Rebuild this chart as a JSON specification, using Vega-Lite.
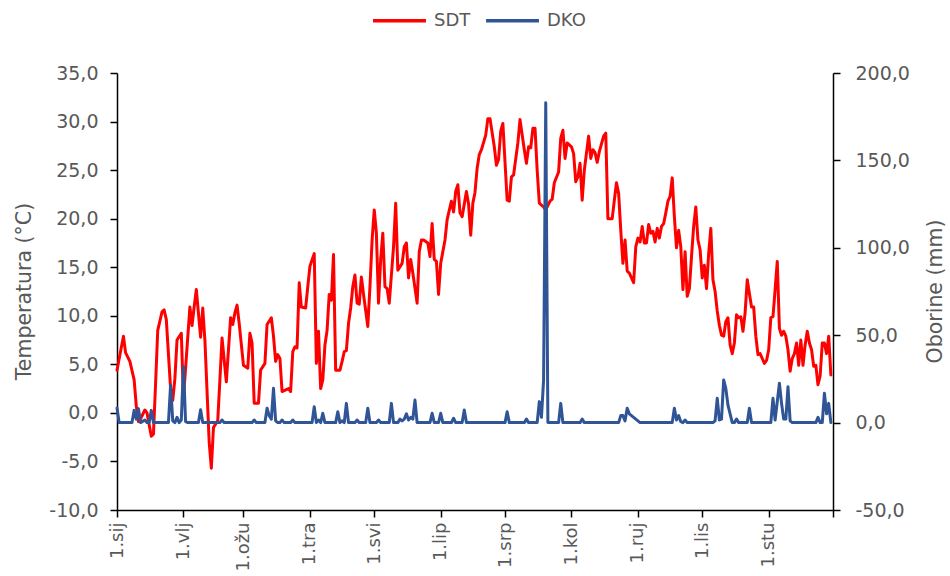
{
  "$schema": "https://vega.github.io/schema/vega-lite/v6.json",
  "width": 716,
  "height": 437,
  "autosize": {"type": "none"},
  "padding": {"left": 117, "top": 73, "right": 117, "bottom": 66},
  "background": "white",
  "config": {
    "view": {"stroke": null},
    "font": "DejaVu Sans",
    "axis": {
      "grid": false,
      "domainColor": "#000000",
      "domainWidth": 1.5,
      "tickColor": "#000000",
      "tickWidth": 1.5,
      "tickSize": 7,
      "labelColor": "#595959",
      "labelFont": "DejaVu Sans",
      "labelFontSize": 19,
      "titleColor": "#595959",
      "titleFont": "DejaVu Sans",
      "titleFontSize": 20.5,
      "titleFontWeight": "normal"
    }
  },
  "datasets": {
    "sdt": [
      {"dan": "2019-01-01", "SDT": 4.4}, {"dan": "2019-01-04", "SDT": 7.9}, {"dan": "2019-01-05", "SDT": 6.2}, {"dan": "2019-01-07", "SDT": 5.3},
      {"dan": "2019-01-09", "SDT": 3.4}, {"dan": "2019-01-10", "SDT": 0.7}, {"dan": "2019-01-11", "SDT": -0.9}, {"dan": "2019-01-12", "SDT": -0.6},
      {"dan": "2019-01-14", "SDT": 0.3}, {"dan": "2019-01-15", "SDT": 0.0}, {"dan": "2019-01-17", "SDT": -2.4}, {"dan": "2019-01-18", "SDT": -2.2},
      {"dan": "2019-01-19", "SDT": 3.0}, {"dan": "2019-01-20", "SDT": 8.5}, {"dan": "2019-01-22", "SDT": 10.4}, {"dan": "2019-01-23", "SDT": 10.6},
      {"dan": "2019-01-24", "SDT": 9.6}, {"dan": "2019-01-26", "SDT": 2.5}, {"dan": "2019-01-27", "SDT": 1.3}, {"dan": "2019-01-28", "SDT": 3.5},
      {"dan": "2019-01-29", "SDT": 7.5}, {"dan": "2019-01-31", "SDT": 8.2}, {"dan": "2019-02-01", "SDT": 1.5}, {"dan": "2019-02-04", "SDT": 10.9},
      {"dan": "2019-02-05", "SDT": 9.0}, {"dan": "2019-02-06", "SDT": 10.9}, {"dan": "2019-02-07", "SDT": 12.7}, {"dan": "2019-02-09", "SDT": 7.8},
      {"dan": "2019-02-10", "SDT": 10.8}, {"dan": "2019-02-11", "SDT": 7.5}, {"dan": "2019-02-13", "SDT": -3.0}, {"dan": "2019-02-14", "SDT": -5.7},
      {"dan": "2019-02-15", "SDT": -1.5}, {"dan": "2019-02-17", "SDT": -0.8}, {"dan": "2019-02-18", "SDT": 3.4}, {"dan": "2019-02-19", "SDT": 7.7},
      {"dan": "2019-02-21", "SDT": 3.2}, {"dan": "2019-02-23", "SDT": 9.8}, {"dan": "2019-02-24", "SDT": 9.1}, {"dan": "2019-02-25", "SDT": 10.3},
      {"dan": "2019-02-26", "SDT": 11.1}, {"dan": "2019-02-27", "SDT": 9.2}, {"dan": "2019-03-01", "SDT": 4.9}, {"dan": "2019-03-03", "SDT": 4.6},
      {"dan": "2019-03-04", "SDT": 8.2}, {"dan": "2019-03-05", "SDT": 7.2}, {"dan": "2019-03-06", "SDT": 1.0}, {"dan": "2019-03-08", "SDT": 1.0},
      {"dan": "2019-03-09", "SDT": 4.4}, {"dan": "2019-03-11", "SDT": 5.1}, {"dan": "2019-03-12", "SDT": 9.1}, {"dan": "2019-03-14", "SDT": 9.8},
      {"dan": "2019-03-15", "SDT": 7.9}, {"dan": "2019-03-16", "SDT": 5.3}, {"dan": "2019-03-17", "SDT": 6.0}, {"dan": "2019-03-18", "SDT": 5.6},
      {"dan": "2019-03-19", "SDT": 2.2}, {"dan": "2019-03-22", "SDT": 2.5}, {"dan": "2019-03-23", "SDT": 2.2}, {"dan": "2019-03-24", "SDT": 6.3},
      {"dan": "2019-03-25", "SDT": 6.8}, {"dan": "2019-03-26", "SDT": 6.7}, {"dan": "2019-03-27", "SDT": 13.4}, {"dan": "2019-03-28", "SDT": 10.9},
      {"dan": "2019-03-30", "SDT": 10.8}, {"dan": "2019-03-31", "SDT": 13.0}, {"dan": "2019-04-01", "SDT": 15.1}, {"dan": "2019-04-03", "SDT": 16.4},
      {"dan": "2019-04-04", "SDT": 5.1}, {"dan": "2019-04-05", "SDT": 8.4}, {"dan": "2019-04-06", "SDT": 2.5}, {"dan": "2019-04-07", "SDT": 3.4},
      {"dan": "2019-04-08", "SDT": 7.0}, {"dan": "2019-04-09", "SDT": 8.5}, {"dan": "2019-04-10", "SDT": 12.2}, {"dan": "2019-04-11", "SDT": 11.6},
      {"dan": "2019-04-12", "SDT": 16.3}, {"dan": "2019-04-13", "SDT": 4.4}, {"dan": "2019-04-15", "SDT": 4.4}, {"dan": "2019-04-16", "SDT": 5.3},
      {"dan": "2019-04-17", "SDT": 6.3}, {"dan": "2019-04-18", "SDT": 6.4}, {"dan": "2019-04-19", "SDT": 9.2}, {"dan": "2019-04-20", "SDT": 10.8},
      {"dan": "2019-04-21", "SDT": 13.0}, {"dan": "2019-04-22", "SDT": 14.2}, {"dan": "2019-04-23", "SDT": 11.3}, {"dan": "2019-04-24", "SDT": 11.2},
      {"dan": "2019-04-25", "SDT": 14.0}, {"dan": "2019-04-26", "SDT": 12.2}, {"dan": "2019-04-28", "SDT": 8.9}, {"dan": "2019-04-29", "SDT": 13.0},
      {"dan": "2019-04-30", "SDT": 17.8}, {"dan": "2019-05-01", "SDT": 20.9}, {"dan": "2019-05-02", "SDT": 18.5}, {"dan": "2019-05-03", "SDT": 11.3},
      {"dan": "2019-05-04", "SDT": 15.8}, {"dan": "2019-05-05", "SDT": 18.5}, {"dan": "2019-05-06", "SDT": 13.0}, {"dan": "2019-05-07", "SDT": 12.8},
      {"dan": "2019-05-08", "SDT": 11.3}, {"dan": "2019-05-10", "SDT": 17.1}, {"dan": "2019-05-11", "SDT": 21.6}, {"dan": "2019-05-12", "SDT": 14.7},
      {"dan": "2019-05-14", "SDT": 15.4}, {"dan": "2019-05-15", "SDT": 17.1}, {"dan": "2019-05-16", "SDT": 17.5}, {"dan": "2019-05-17", "SDT": 13.9},
      {"dan": "2019-05-18", "SDT": 15.8}, {"dan": "2019-05-19", "SDT": 14.4}, {"dan": "2019-05-21", "SDT": 11.3}, {"dan": "2019-05-22", "SDT": 16.6},
      {"dan": "2019-05-23", "SDT": 17.8}, {"dan": "2019-05-24", "SDT": 17.8}, {"dan": "2019-05-26", "SDT": 17.5}, {"dan": "2019-05-27", "SDT": 16.1},
      {"dan": "2019-05-28", "SDT": 19.5}, {"dan": "2019-05-29", "SDT": 15.8}, {"dan": "2019-05-30", "SDT": 15.6}, {"dan": "2019-05-31", "SDT": 12.2},
      {"dan": "2019-06-01", "SDT": 15.4}, {"dan": "2019-06-03", "SDT": 17.8}, {"dan": "2019-06-04", "SDT": 19.9}, {"dan": "2019-06-06", "SDT": 21.8},
      {"dan": "2019-06-07", "SDT": 20.7}, {"dan": "2019-06-08", "SDT": 22.8}, {"dan": "2019-06-09", "SDT": 23.5}, {"dan": "2019-06-10", "SDT": 20.6},
      {"dan": "2019-06-11", "SDT": 20.2}, {"dan": "2019-06-13", "SDT": 22.8}, {"dan": "2019-06-14", "SDT": 21.5}, {"dan": "2019-06-15", "SDT": 18.3},
      {"dan": "2019-06-16", "SDT": 21.6}, {"dan": "2019-06-17", "SDT": 22.7}, {"dan": "2019-06-18", "SDT": 25.2}, {"dan": "2019-06-19", "SDT": 26.6},
      {"dan": "2019-06-20", "SDT": 27.1}, {"dan": "2019-06-22", "SDT": 28.6}, {"dan": "2019-06-23", "SDT": 30.3}, {"dan": "2019-06-24", "SDT": 30.3},
      {"dan": "2019-06-26", "SDT": 27.4}, {"dan": "2019-06-27", "SDT": 25.5}, {"dan": "2019-06-28", "SDT": 26.1}, {"dan": "2019-06-29", "SDT": 29.0},
      {"dan": "2019-06-30", "SDT": 29.8}, {"dan": "2019-07-02", "SDT": 21.9}, {"dan": "2019-07-03", "SDT": 21.8}, {"dan": "2019-07-04", "SDT": 24.3},
      {"dan": "2019-07-05", "SDT": 24.5}, {"dan": "2019-07-07", "SDT": 27.8}, {"dan": "2019-07-08", "SDT": 30.2}, {"dan": "2019-07-10", "SDT": 27.1},
      {"dan": "2019-07-11", "SDT": 25.7}, {"dan": "2019-07-12", "SDT": 27.4}, {"dan": "2019-07-13", "SDT": 27.3}, {"dan": "2019-07-14", "SDT": 29.3},
      {"dan": "2019-07-15", "SDT": 29.3}, {"dan": "2019-07-16", "SDT": 25.0}, {"dan": "2019-07-17", "SDT": 21.6}, {"dan": "2019-07-19", "SDT": 21.2},
      {"dan": "2019-07-20", "SDT": 20.9}, {"dan": "2019-07-22", "SDT": 21.8}, {"dan": "2019-07-23", "SDT": 22.0}, {"dan": "2019-07-24", "SDT": 23.7},
      {"dan": "2019-07-26", "SDT": 24.8}, {"dan": "2019-07-27", "SDT": 28.3}, {"dan": "2019-07-28", "SDT": 29.1}, {"dan": "2019-07-29", "SDT": 26.2},
      {"dan": "2019-07-30", "SDT": 27.8}, {"dan": "2019-08-01", "SDT": 27.4}, {"dan": "2019-08-02", "SDT": 26.7}, {"dan": "2019-08-03", "SDT": 23.8},
      {"dan": "2019-08-04", "SDT": 24.3}, {"dan": "2019-08-05", "SDT": 25.7}, {"dan": "2019-08-06", "SDT": 21.9}, {"dan": "2019-08-07", "SDT": 25.0},
      {"dan": "2019-08-09", "SDT": 28.5}, {"dan": "2019-08-10", "SDT": 26.2}, {"dan": "2019-08-11", "SDT": 27.1}, {"dan": "2019-08-12", "SDT": 26.8},
      {"dan": "2019-08-13", "SDT": 25.8}, {"dan": "2019-08-14", "SDT": 26.9}, {"dan": "2019-08-16", "SDT": 28.5}, {"dan": "2019-08-17", "SDT": 28.8},
      {"dan": "2019-08-18", "SDT": 20.0}, {"dan": "2019-08-20", "SDT": 20.0}, {"dan": "2019-08-21", "SDT": 21.9}, {"dan": "2019-08-22", "SDT": 23.7},
      {"dan": "2019-08-23", "SDT": 22.6}, {"dan": "2019-08-24", "SDT": 18.8}, {"dan": "2019-08-25", "SDT": 15.4}, {"dan": "2019-08-26", "SDT": 17.8},
      {"dan": "2019-08-27", "SDT": 14.6}, {"dan": "2019-08-28", "SDT": 14.4}, {"dan": "2019-08-30", "SDT": 13.4}, {"dan": "2019-08-31", "SDT": 17.1},
      {"dan": "2019-09-01", "SDT": 18.0}, {"dan": "2019-09-02", "SDT": 17.6}, {"dan": "2019-09-03", "SDT": 19.2}, {"dan": "2019-09-04", "SDT": 17.5},
      {"dan": "2019-09-05", "SDT": 17.5}, {"dan": "2019-09-06", "SDT": 19.4}, {"dan": "2019-09-07", "SDT": 18.5}, {"dan": "2019-09-08", "SDT": 18.7},
      {"dan": "2019-09-09", "SDT": 17.6}, {"dan": "2019-09-10", "SDT": 19.0}, {"dan": "2019-09-11", "SDT": 18.0}, {"dan": "2019-09-12", "SDT": 19.2},
      {"dan": "2019-09-13", "SDT": 19.5}, {"dan": "2019-09-14", "SDT": 20.6}, {"dan": "2019-09-15", "SDT": 21.8}, {"dan": "2019-09-16", "SDT": 22.3},
      {"dan": "2019-09-17", "SDT": 24.2}, {"dan": "2019-09-18", "SDT": 20.2}, {"dan": "2019-09-19", "SDT": 17.0}, {"dan": "2019-09-20", "SDT": 18.8},
      {"dan": "2019-09-21", "SDT": 17.1}, {"dan": "2019-09-22", "SDT": 12.7}, {"dan": "2019-09-23", "SDT": 16.6}, {"dan": "2019-09-24", "SDT": 12.0},
      {"dan": "2019-09-25", "SDT": 12.8}, {"dan": "2019-09-26", "SDT": 16.1}, {"dan": "2019-09-27", "SDT": 19.2}, {"dan": "2019-09-28", "SDT": 21.2},
      {"dan": "2019-09-29", "SDT": 17.8}, {"dan": "2019-09-30", "SDT": 16.8}, {"dan": "2019-10-01", "SDT": 13.9}, {"dan": "2019-10-02", "SDT": 15.2},
      {"dan": "2019-10-03", "SDT": 12.8}, {"dan": "2019-10-04", "SDT": 16.4}, {"dan": "2019-10-05", "SDT": 19.0}, {"dan": "2019-10-06", "SDT": 13.7},
      {"dan": "2019-10-07", "SDT": 12.5}, {"dan": "2019-10-08", "SDT": 10.5}, {"dan": "2019-10-09", "SDT": 9.0}, {"dan": "2019-10-10", "SDT": 8.0},
      {"dan": "2019-10-11", "SDT": 7.9}, {"dan": "2019-10-12", "SDT": 9.4}, {"dan": "2019-10-13", "SDT": 9.8}, {"dan": "2019-10-14", "SDT": 7.0},
      {"dan": "2019-10-15", "SDT": 6.1}, {"dan": "2019-10-16", "SDT": 7.2}, {"dan": "2019-10-17", "SDT": 10.1}, {"dan": "2019-10-18", "SDT": 9.8},
      {"dan": "2019-10-19", "SDT": 9.9}, {"dan": "2019-10-20", "SDT": 8.4}, {"dan": "2019-10-21", "SDT": 10.3}, {"dan": "2019-10-22", "SDT": 13.7},
      {"dan": "2019-10-23", "SDT": 12.3}, {"dan": "2019-10-24", "SDT": 10.9}, {"dan": "2019-10-25", "SDT": 10.9}, {"dan": "2019-10-26", "SDT": 7.9},
      {"dan": "2019-10-27", "SDT": 6.0}, {"dan": "2019-10-28", "SDT": 6.1}, {"dan": "2019-10-29", "SDT": 5.6}, {"dan": "2019-10-30", "SDT": 5.1},
      {"dan": "2019-10-31", "SDT": 5.4}, {"dan": "2019-11-01", "SDT": 6.5}, {"dan": "2019-11-02", "SDT": 9.8}, {"dan": "2019-11-03", "SDT": 9.9},
      {"dan": "2019-11-04", "SDT": 12.7}, {"dan": "2019-11-05", "SDT": 15.6}, {"dan": "2019-11-06", "SDT": 8.7}, {"dan": "2019-11-07", "SDT": 8.0},
      {"dan": "2019-11-08", "SDT": 8.4}, {"dan": "2019-11-09", "SDT": 7.9}, {"dan": "2019-11-10", "SDT": 6.5}, {"dan": "2019-11-11", "SDT": 4.3},
      {"dan": "2019-11-12", "SDT": 5.6}, {"dan": "2019-11-13", "SDT": 6.1}, {"dan": "2019-11-14", "SDT": 7.2}, {"dan": "2019-11-15", "SDT": 4.9},
      {"dan": "2019-11-16", "SDT": 7.5}, {"dan": "2019-11-17", "SDT": 4.9}, {"dan": "2019-11-18", "SDT": 7.0}, {"dan": "2019-11-19", "SDT": 8.4},
      {"dan": "2019-11-20", "SDT": 7.2}, {"dan": "2019-11-21", "SDT": 6.5}, {"dan": "2019-11-22", "SDT": 4.8}, {"dan": "2019-11-23", "SDT": 4.9},
      {"dan": "2019-11-24", "SDT": 2.9}, {"dan": "2019-11-25", "SDT": 3.8}, {"dan": "2019-11-26", "SDT": 7.2}, {"dan": "2019-11-27", "SDT": 7.2},
      {"dan": "2019-11-28", "SDT": 6.1}, {"dan": "2019-11-29", "SDT": 7.9}, {"dan": "2019-11-30", "SDT": 3.9}
    ],
    "dko": [
      {"dan": "2019-01-01", "DKO": 8.3}, {"dan": "2019-01-02", "DKO": 0}, {"dan": "2019-01-08", "DKO": 0}, {"dan": "2019-01-09", "DKO": 7},
      {"dan": "2019-01-10", "DKO": 2}, {"dan": "2019-01-11", "DKO": 8}, {"dan": "2019-01-12", "DKO": 0}, {"dan": "2019-01-14", "DKO": 1.5},
      {"dan": "2019-01-15", "DKO": 0}, {"dan": "2019-01-16", "DKO": 0}, {"dan": "2019-01-17", "DKO": 7}, {"dan": "2019-01-18", "DKO": 0},
      {"dan": "2019-01-25", "DKO": 0}, {"dan": "2019-01-26", "DKO": 21.5}, {"dan": "2019-01-27", "DKO": 1}, {"dan": "2019-01-28", "DKO": 0},
      {"dan": "2019-01-29", "DKO": 3}, {"dan": "2019-01-30", "DKO": 0}, {"dan": "2019-01-31", "DKO": 1.5}, {"dan": "2019-02-01", "DKO": 32},
      {"dan": "2019-02-02", "DKO": 0.5}, {"dan": "2019-02-03", "DKO": 0}, {"dan": "2019-02-08", "DKO": 0}, {"dan": "2019-02-09", "DKO": 7.3},
      {"dan": "2019-02-10", "DKO": 0}, {"dan": "2019-02-18", "DKO": 0}, {"dan": "2019-02-19", "DKO": 1.5}, {"dan": "2019-02-20", "DKO": 0},
      {"dan": "2019-03-05", "DKO": 0}, {"dan": "2019-03-06", "DKO": 1.5}, {"dan": "2019-03-07", "DKO": 0}, {"dan": "2019-03-11", "DKO": 0},
      {"dan": "2019-03-12", "DKO": 8.2}, {"dan": "2019-03-13", "DKO": 4}, {"dan": "2019-03-14", "DKO": 2}, {"dan": "2019-03-15", "DKO": 19.6},
      {"dan": "2019-03-16", "DKO": 1}, {"dan": "2019-03-17", "DKO": 0}, {"dan": "2019-03-18", "DKO": 0}, {"dan": "2019-03-19", "DKO": 1.5},
      {"dan": "2019-03-20", "DKO": 0}, {"dan": "2019-03-23", "DKO": 0}, {"dan": "2019-03-24", "DKO": 1.5}, {"dan": "2019-03-25", "DKO": 0},
      {"dan": "2019-04-02", "DKO": 0}, {"dan": "2019-04-03", "DKO": 9.1}, {"dan": "2019-04-04", "DKO": 0}, {"dan": "2019-04-05", "DKO": 1.5},
      {"dan": "2019-04-06", "DKO": 0}, {"dan": "2019-04-07", "DKO": 5.3}, {"dan": "2019-04-08", "DKO": 0}, {"dan": "2019-04-13", "DKO": 0},
      {"dan": "2019-04-14", "DKO": 6.2}, {"dan": "2019-04-15", "DKO": 0}, {"dan": "2019-04-16", "DKO": 1}, {"dan": "2019-04-17", "DKO": 0},
      {"dan": "2019-04-18", "DKO": 11}, {"dan": "2019-04-19", "DKO": 0}, {"dan": "2019-04-22", "DKO": 0}, {"dan": "2019-04-23", "DKO": 1.5},
      {"dan": "2019-04-24", "DKO": 0}, {"dan": "2019-04-27", "DKO": 0}, {"dan": "2019-04-28", "DKO": 8.2}, {"dan": "2019-04-29", "DKO": 0},
      {"dan": "2019-05-02", "DKO": 0}, {"dan": "2019-05-03", "DKO": 1.5}, {"dan": "2019-05-04", "DKO": 0}, {"dan": "2019-05-08", "DKO": 0},
      {"dan": "2019-05-09", "DKO": 11}, {"dan": "2019-05-10", "DKO": 0}, {"dan": "2019-05-12", "DKO": 0}, {"dan": "2019-05-13", "DKO": 2},
      {"dan": "2019-05-14", "DKO": 1}, {"dan": "2019-05-15", "DKO": 2}, {"dan": "2019-05-16", "DKO": 5}, {"dan": "2019-05-17", "DKO": 1.5},
      {"dan": "2019-05-18", "DKO": 3}, {"dan": "2019-05-19", "DKO": 2}, {"dan": "2019-05-20", "DKO": 12.9}, {"dan": "2019-05-21", "DKO": 0},
      {"dan": "2019-05-27", "DKO": 0}, {"dan": "2019-05-28", "DKO": 5.3}, {"dan": "2019-05-29", "DKO": 0}, {"dan": "2019-05-31", "DKO": 0},
      {"dan": "2019-06-01", "DKO": 5.3}, {"dan": "2019-06-02", "DKO": 0}, {"dan": "2019-06-06", "DKO": 0}, {"dan": "2019-06-07", "DKO": 2.5},
      {"dan": "2019-06-08", "DKO": 0}, {"dan": "2019-06-11", "DKO": 0}, {"dan": "2019-06-12", "DKO": 7.2}, {"dan": "2019-06-13", "DKO": 0},
      {"dan": "2019-07-01", "DKO": 0}, {"dan": "2019-07-02", "DKO": 6.2}, {"dan": "2019-07-03", "DKO": 0}, {"dan": "2019-07-10", "DKO": 0},
      {"dan": "2019-07-11", "DKO": 2}, {"dan": "2019-07-12", "DKO": 0}, {"dan": "2019-07-16", "DKO": 0}, {"dan": "2019-07-17", "DKO": 12},
      {"dan": "2019-07-18", "DKO": 3}, {"dan": "2019-07-19", "DKO": 24.4}, {"dan": "2019-07-20", "DKO": 183}, {"dan": "2019-07-21", "DKO": 0},
      {"dan": "2019-07-26", "DKO": 0}, {"dan": "2019-07-27", "DKO": 11}, {"dan": "2019-07-28", "DKO": 0}, {"dan": "2019-08-05", "DKO": 0},
      {"dan": "2019-08-06", "DKO": 2}, {"dan": "2019-08-07", "DKO": 0}, {"dan": "2019-08-23", "DKO": 0}, {"dan": "2019-08-24", "DKO": 4},
      {"dan": "2019-08-25", "DKO": 4}, {"dan": "2019-08-26", "DKO": 1}, {"dan": "2019-08-27", "DKO": 8.2}, {"dan": "2019-08-28", "DKO": 5},
      {"dan": "2019-08-29", "DKO": 4}, {"dan": "2019-08-30", "DKO": 3}, {"dan": "2019-08-31", "DKO": 2}, {"dan": "2019-09-01", "DKO": 1},
      {"dan": "2019-09-02", "DKO": 0}, {"dan": "2019-09-17", "DKO": 0}, {"dan": "2019-09-18", "DKO": 8.2}, {"dan": "2019-09-19", "DKO": 1.5},
      {"dan": "2019-09-20", "DKO": 4}, {"dan": "2019-09-21", "DKO": 0.5}, {"dan": "2019-09-22", "DKO": 0}, {"dan": "2019-09-23", "DKO": 1.5},
      {"dan": "2019-09-24", "DKO": 0}, {"dan": "2019-10-06", "DKO": 0}, {"dan": "2019-10-07", "DKO": 1}, {"dan": "2019-10-08", "DKO": 13.9},
      {"dan": "2019-10-09", "DKO": 1.5}, {"dan": "2019-10-10", "DKO": 2}, {"dan": "2019-10-11", "DKO": 24.4}, {"dan": "2019-10-12", "DKO": 19.6},
      {"dan": "2019-10-13", "DKO": 10}, {"dan": "2019-10-14", "DKO": 5}, {"dan": "2019-10-15", "DKO": 0}, {"dan": "2019-10-16", "DKO": 0},
      {"dan": "2019-10-17", "DKO": 2}, {"dan": "2019-10-18", "DKO": 0}, {"dan": "2019-10-22", "DKO": 0}, {"dan": "2019-10-23", "DKO": 8.2},
      {"dan": "2019-10-24", "DKO": 0}, {"dan": "2019-11-02", "DKO": 0}, {"dan": "2019-11-03", "DKO": 13.9}, {"dan": "2019-11-04", "DKO": 1.5},
      {"dan": "2019-11-06", "DKO": 22.5}, {"dan": "2019-11-07", "DKO": 11}, {"dan": "2019-11-08", "DKO": 2}, {"dan": "2019-11-09", "DKO": 2},
      {"dan": "2019-11-10", "DKO": 20.5}, {"dan": "2019-11-11", "DKO": 1}, {"dan": "2019-11-12", "DKO": 0}, {"dan": "2019-11-23", "DKO": 0},
      {"dan": "2019-11-24", "DKO": 3}, {"dan": "2019-11-25", "DKO": 0}, {"dan": "2019-11-26", "DKO": 0}, {"dan": "2019-11-27", "DKO": 16.8},
      {"dan": "2019-11-28", "DKO": 5}, {"dan": "2019-11-29", "DKO": 11}, {"dan": "2019-11-30", "DKO": 0}
    ]
  },
  "layer": [
    {
      "data": {"name": "sdt"},
      "mark": {"type": "line", "strokeWidth": 3, "strokeJoin": "round", "strokeCap": "round"},
      "encoding": {
        "x": {
          "field": "dan",
          "type": "temporal",
          "scale": {
            "type": "utc",
            "domain": [
              {"year": 2019, "month": 1, "date": 1, "utc": true},
              {"year": 2019, "month": 12, "date": 1, "utc": true}
            ]
          },
          "axis": {
            "title": null,
            "values": [
              {"year": 2019, "month": 1, "date": 1, "utc": true},
              {"year": 2019, "month": 2, "date": 1, "utc": true},
              {"year": 2019, "month": 3, "date": 1, "utc": true},
              {"year": 2019, "month": 4, "date": 1, "utc": true},
              {"year": 2019, "month": 5, "date": 1, "utc": true},
              {"year": 2019, "month": 6, "date": 1, "utc": true},
              {"year": 2019, "month": 7, "date": 1, "utc": true},
              {"year": 2019, "month": 8, "date": 1, "utc": true},
              {"year": 2019, "month": 9, "date": 1, "utc": true},
              {"year": 2019, "month": 10, "date": 1, "utc": true},
              {"year": 2019, "month": 11, "date": 1, "utc": true},
              {"year": 2019, "month": 12, "date": 1, "utc": true}
            ],
            "labelExpr": "utcmonth(datum.value) == 11 ? '' : '1.' + ['sij','vlj','ožu','tra','svi','lip','srp','kol','ruj','lis','stu','pro'][utcmonth(datum.value)]",
            "labelAngle": -90,
            "labelFontSize": 18,
            "labelPadding": 5,
            "labelOverlap": false,
            "labelFlush": false
          }
        },
        "y": {
          "field": "SDT",
          "type": "quantitative",
          "scale": {"domain": [-10, 35], "nice": false, "zero": false},
          "axis": {
            "title": "Temperatura (°C)",
            "values": [-10, -5, 0, 5, 10, 15, 20, 25, 30, 35],
            "labelExpr": "replace(replace(format(datum.value, '.1f'), '.', ','), '\u2212', '-')",
            "labelPadding": 12,
            "titleAngle": -90,
            "titleX": -93,
            "titleY": 218,
            "titleAlign": "center",
            "titleBaseline": "middle"
          }
        },
        "color": {
          "datum": "SDT",
          "type": "nominal",
          "scale": {"domain": ["SDT", "DKO"], "range": ["#FF0000", "#2F5597"]},
          "legend": {
            "title": null,
            "orient": "none",
            "direction": "horizontal",
            "legendX": 254,
            "legendY": -81,
            "symbolType": "stroke",
            "symbolSize": 2800,
            "symbolStrokeWidth": 3.5,
            "labelFontSize": 18,
            "labelColor": "#595959",
            "labelFont": "DejaVu Sans",
            "labelOffset": 6,
            "columnPadding": 8,
            "padding": 0
          }
        }
      }
    },
    {
      "data": {"name": "dko"},
      "mark": {"type": "line", "strokeWidth": 3, "strokeJoin": "round", "strokeCap": "round"},
      "encoding": {
        "x": {"field": "dan", "type": "temporal"},
        "y": {
          "field": "DKO",
          "type": "quantitative",
          "scale": {"domain": [-50, 200], "nice": false, "zero": false},
          "axis": {
            "orient": "right",
            "title": "Oborine (mm)",
            "values": [-50, 0, 50, 100, 150, 200],
            "labelExpr": "replace(replace(format(datum.value, '.1f'), '.', ','), '\u2212', '-')",
            "labelPadding": 15,
            "titleAngle": -90,
            "titleX": 102,
            "titleY": 218,
            "titleAlign": "center",
            "titleBaseline": "middle"
          }
        },
        "color": {"datum": "DKO", "type": "nominal"}
      }
    }
  ],
  "resolve": {"scale": {"y": "independent"}}
}
